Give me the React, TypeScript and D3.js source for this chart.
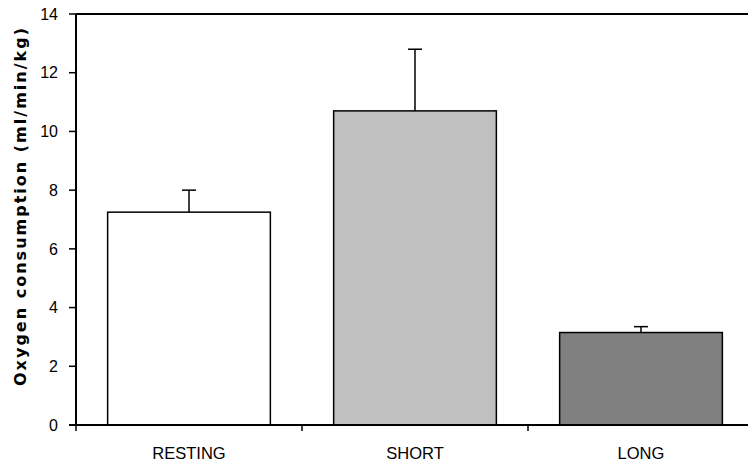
import React from 'react';
import * as d3 from 'd3';

const categories = ['RESTING', 'SHORT', 'LONG'];
const means = [7.25, 10.7, 3.15];
const errors = [0.75, 2.1, 0.2];
const fills = ['#ffffff', '#c0c0c0', '#808080'];
const yTicks = [0, 2, 4, 6, 8, 10, 12, 14];

const W = 748;
const H = 461;
const left = 76;
const top = 14;
const bottom = 425;

const App = () => {
  const x = d3.scaleBand<string>()
    .domain(categories)
    .range([left, left + 678])
    .paddingInner(0.28)
    .paddingOuter(0.14);

  const y = d3.scaleLinear().domain([0, 14]).range([bottom, top]);

  const gap = (x.step() - x.bandwidth()) / 2;
  const font = 'Liberation Sans, Arial, sans-serif';

  return (
    <svg width={W} height={H} style={{ position: 'absolute', left: 0, top: 0, background: '#fff' }}>
      {/* bars */}
      {categories.map((c, i) => (
        <rect
          key={c}
          x={x(c)}
          y={y(means[i])}
          width={x.bandwidth()}
          height={y(0) - y(means[i])}
          fill={fills[i]}
          stroke="#000"
          strokeWidth={1.5}
        />
      ))}

      {/* error bars, upper only */}
      {categories.map((c, i) => {
        const cx = (x(c) as number) + x.bandwidth() / 2;
        return (
          <g key={c + '-err'} stroke="#000" strokeWidth={1.5}>
            <line x1={cx} x2={cx} y1={y(means[i])} y2={y(means[i] + errors[i])} />
            <line x1={cx - 7} x2={cx + 7} y1={y(means[i] + errors[i])} y2={y(means[i] + errors[i])} />
          </g>
        );
      })}

      {/* y axis */}
      <line x1={left} x2={left} y1={y(14)} y2={y(0)} stroke="#000" strokeWidth={2} />
      {yTicks.map(t => (
        <g key={t}>
          <line x1={left - 7} x2={left} y1={y(t)} y2={y(t)} stroke="#000" strokeWidth={1.5} />
          <text
            x={left - 18}
            y={y(t)}
            dy="0.36em"
            textAnchor="end"
            fontFamily={font}
            fontSize={16}
            fill="#000"
          >
            {t}
          </text>
        </g>
      ))}

      {/* top border */}
      <line x1={left} x2={W} y1={y(14)} y2={y(14)} stroke="#000" strokeWidth={2} />

      {/* x axis */}
      <line x1={left - 7} x2={W} y1={y(0)} y2={y(0)} stroke="#000" strokeWidth={2} />
      {categories.map(c => (
        <line
          key={c + '-tick'}
          x1={(x(c) as number) - gap}
          x2={(x(c) as number) - gap}
          y1={y(0)}
          y2={y(0) + 6}
          stroke="#000"
          strokeWidth={1.5}
        />
      ))}
      {categories.map(c => (
        <text
          key={c + '-label'}
          x={(x(c) as number) + x.bandwidth() / 2}
          y={459}
          textAnchor="middle"
          fontFamily={font}
          fontSize={16.5}
          fill="#000"
        >
          {c}
        </text>
      ))}

      {/* y axis title */}
      <text
        transform={`translate(26,207) rotate(-90)`}
        textAnchor="middle"
        fontFamily="DejaVu Sans, Verdana, sans-serif"
        fontWeight="bold"
        fontSize={16}
        textLength={358}
        lengthAdjust="spacing"
        fill="#000"
      >
        Oxygen consumption (ml/min/kg)
      </text>
    </svg>
  );
};

export default App;
